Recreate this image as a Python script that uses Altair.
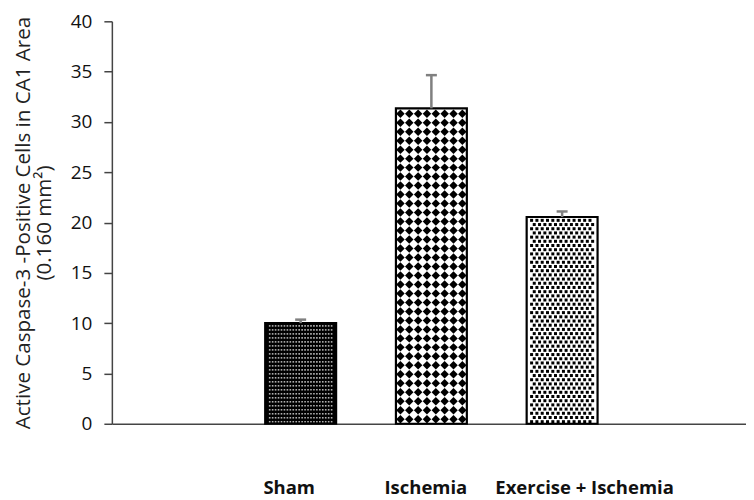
import altair as alt
import pandas as pd

groups = ["Sham", "Ischemia", "Exercise + Ischemia"]
positions = [1, 2, 3]
means = [10.0, 31.35, 20.55]
errors = [0.35, 3.3, 0.55]
y_ticks = [0, 5, 10, 15, 20, 25, 30, 35, 40]
y_title = ["Active Caspase-3 -Positive Cells in CA1  Area", "(0.160 mm²)"]

df = pd.DataFrame({"group": groups, "pos": positions, "mean": means, "err": errors})
df["top"] = df["mean"] + df["err"]

PLOT_W = 635
PLOT_H = 403
X_DOMAIN = [-0.406, -0.406 + PLOT_W / 133.0]
PX_X = PLOT_W / (X_DOMAIN[1] - X_DOMAIN[0])
PX_Y = PLOT_H / 40.0
BAR_W = 71

x_scale = alt.Scale(domain=X_DOMAIN, nice=False, zero=False)
y_scale = alt.Scale(domain=[0, 40], nice=False)

label_expr = " : ".join(
    [f"datum.value == {p} ? '{g}'" for p, g in zip(positions[:-1], groups[:-1])]
    + [f"'{groups[-1]}'"]
)

x_axis = alt.Axis(
    values=positions, labelExpr=label_expr, ticks=False, grid=False, title=None,
    labelPadding=55, labelFont="Open Sans", labelFontSize=18.5, labelFontWeight="bold",
    labelColor="#111111", labelFlush=False, labelOverlap=False,
    labelOffset={"condition": [{"test": "datum.value == 1", "value": -12},
                               {"test": "datum.value == 2", "value": -6}],
                 "value": 22},
    domainColor="#444444", domainWidth=1.5,
)
y_axis = alt.Axis(
    values=y_ticks, grid=False, title=y_title, titleFont="Open Sans", titleFontSize=20.6,
    titleFontWeight="normal", titleColor="#222222", titlePadding=16, titleLineHeight=21,
    labelFont="Open Sans", labelFontSize=19, labelColor="#111111", labelPadding=12,
    tickSize=8, tickColor="#444444", tickWidth=1.5, domainColor="#444444", domainWidth=1.5,
)


def X(field):
    return alt.X(field, scale=x_scale, axis=x_axis)


def Y(field):
    return alt.Y(field, scale=y_scale, axis=y_axis)


base = alt.Chart(df)

bars_fill = base.mark_bar(size=BAR_W, strokeWidth=0).encode(
    x=X("pos:Q"),
    y=Y("mean:Q"),
    fill=alt.Fill("group:N", scale=alt.Scale(domain=groups, range=["#000000", "#ffffff", "#ffffff"]), legend=None),
)


def texture(group, col_px, row_px, ncols, stagger_px, shape, size, color):
    dx = col_px / PX_X
    dy = row_px / PX_Y
    st = stagger_px / PX_X
    return (
        base.transform_filter(alt.datum.group == group)
        .transform_calculate(row=f"sequence(0, floor(datum.mean / {dy}))")
        .transform_flatten(["row"])
        .transform_calculate(col=f"sequence(0, {ncols})")
        .transform_flatten(["col"])
        .transform_calculate(
            tx=f"datum.pos + (datum.col - {(ncols - 1) / 2}) * {dx} + ((datum.row % 2) - 0.5) * {st}",
            ty=f"(datum.row + 0.5) * {dy}",
        )
        .mark_point(shape=shape, filled=True, size=size, color=color, opacity=1, strokeWidth=0)
        .encode(x=X("tx:Q"), y=Y("ty:Q"))
    )


tex_sham = texture("Sham", 3.0, 4.0, 22, 0, "square", 2.6, "#b0b0b0")
tex_isch = texture("Ischemia", 9.0, 9.0, 8, 0, "diamond", 72, "#000000")
tex_exer = texture("Exercise + Ischemia", 5.4, 4.2, 12, 2.7, "square", 9, "#000000")

bars_outline = base.mark_bar(size=BAR_W, fillOpacity=0, stroke="#000000", strokeWidth=2.2).encode(
    x=X("pos:Q"), y=Y("mean:Q"),
)

err_rule = base.mark_rule(color="#808080", strokeWidth=2.5).encode(
    x=X("pos:Q"), y=Y("mean:Q"), y2="top:Q",
)
err_cap = base.mark_tick(orient="horizontal", size=11, thickness=2.5, color="#808080", opacity=1).encode(
    x=X("pos:Q"), y=Y("top:Q"),
)

chart = (
    alt.layer(bars_fill, tex_sham, tex_isch, tex_exer, bars_outline, err_rule, err_cap)
    .properties(width=PLOT_W, height=PLOT_H,
                padding={"left": 5, "top": 4, "right": 0, "bottom": 0},
                background="white")
    .configure_view(stroke=None)
)

chart.save("out.html", embed_options={"renderer": "svg", "actions": False})
